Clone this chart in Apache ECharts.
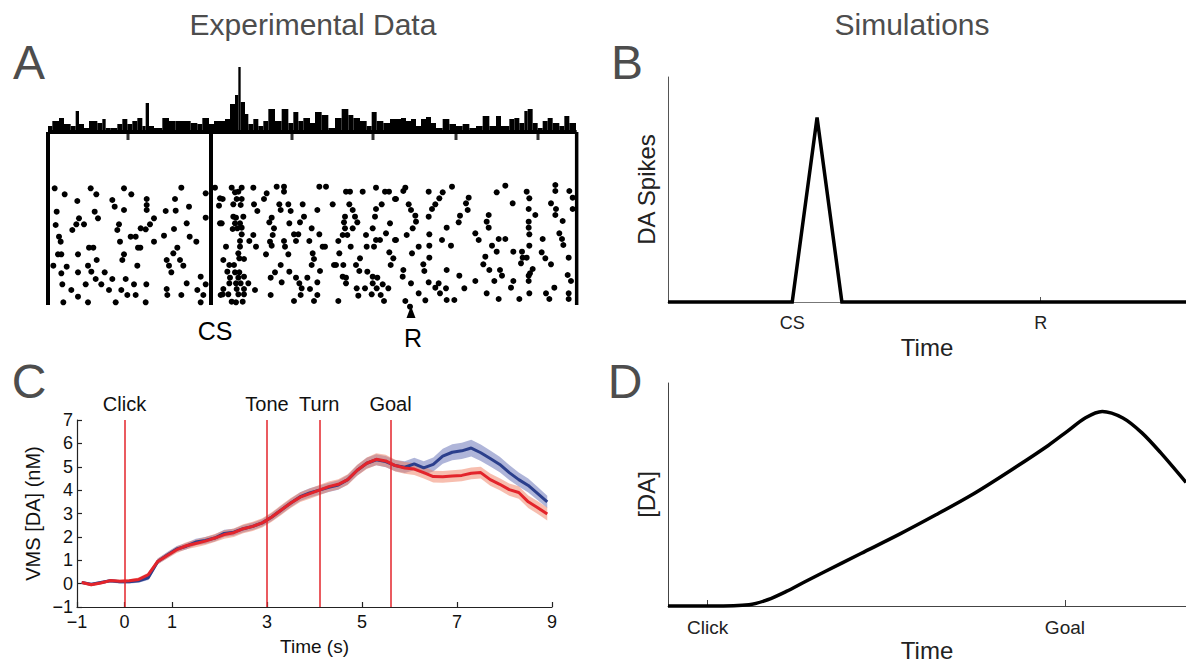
<!DOCTYPE html>
<html><head><meta charset="utf-8">
<script src="https://cdn.jsdelivr.net/npm/echarts@6/dist/echarts.min.js"></script>
<style>html,body{margin:0;padding:0;background:#fff}#c{width:1186px;height:663px}</style>
</head><body><div id="c"></div>
<script>
// ---------- Panel A : histogram (x in raster time units, height in px units) ----------
const histEdges = [12,25,45,60,80,95,105,120,135,160,175,185,200,220,235,250,265,280,295,305,315,330,355,375,395,420,440,460,475,495,510,
  528,543,558,573,583,590,603,613,628,643,658,673,693,713,733,748,763,778,798,813,833,853,873,893,913,928,948,968,983,998,1018,1038,
  1056,1071,1086,1101,1116,1131,1146,1161,1176,1196,1216,1236,1256,1276,1296,1316,1336,1356,1371,1396,1411,1426,1441,1451,1466,1481,1496,1511,1526,1546,1561,1576,1596];
const histHeights = [6,11,14,8,6,21,8,4,11,9,13,4,4,8,13,8,11,14,6,29,6,4,14,11,11,11,9,8,14,8,11,
  11,13,28,37,65,30,18,8,13,6,11,23,11,23,9,20,11,14,9,20,17,4,14,23,17,14,11,6,20,11,9,13,
  13,14,11,13,6,13,15,9,4,13,8,6,8,4,6,16,6,16,6,13,14,9,21,23,9,4,11,14,9,6,16,9];

// raster dots [time, trial-row]
const dotsLeft = [[32,40],[140,40],[240,40],[412,38],[513,38],[62,58],[157,58],[262,58],[485,55],
 [100,78],[205,75],[308,72],[393,72],[528,70],[212,95],[308,90],[435,95],[525,92],
 [38,110],[152,110],[240,105],[308,105],[365,108],[395,107],[105,130],[162,130],[330,130],[485,128],
 [35,150],[97,148],[120,148],[225,148],[318,148],[428,145],[528,145],[85,165],[220,165],[290,160],[305,163],[390,162],
 [45,185],[260,185],[275,185],[360,182],[437,185],[50,200],[228,200],[330,200],[457,200],
 [135,218],[148,218],[282,218],[289,218],[400,218],[42,238],[52,238],[102,238],[240,238],[388,235],
 [158,255],[235,255],[368,255],[408,255],[28,272],[68,275],[132,272],[280,272],[375,272],[418,272],
 [52,295],[102,292],[142,290],[182,292],[382,292],[155,312],[205,312],[245,312],[470,305],
 [55,328],[125,328],[172,328],[270,328],[307,328],[428,325],[485,328],[82,345],[195,345],[232,345],[368,342],[460,345],
 [102,365],[250,360],[275,360],[370,360],[412,360],[478,360],[530,360],[58,382],[132,382],[215,382],[305,382],[470,382]];
const dotsMid = [[563,38],[593,38],[628,38],[698,35],[720,35],[826,35],[846,35],[996,38],
 [573,52],[583,50],[668,55],[720,50],[906,50],[918,50],[956,50],[1023,50],[1035,50],
 [536,72],[578,72],[593,72],[660,72],[1053,72],
 [568,88],[590,90],[630,88],[706,88],[733,88],[776,88],[866,88],[916,88],[1013,88],
 [640,108],[710,105],[740,108],[820,105],[926,105],[996,102],
 [568,125],[576,128],[598,125],[683,128],[780,125],[903,125],[933,125],[993,125],
 [533,145],[573,145],[588,145],[676,142],[736,145],[768,142],[900,142],[940,142],[1038,145],
 [566,162],[580,160],[593,158],[690,160],[803,160],[903,160],[926,160],[986,160],
 [593,178],[628,180],[686,180],[750,178],[763,178],[826,178],[896,180],[910,180],[966,180],[1026,175],
 [588,198],[616,198],[678,200],[720,198],[756,198],[796,198],[883,198],[996,195],[1008,195],[1053,195],
 [546,215],[588,215],[636,215],[683,212],[723,215],[836,215],[843,215],[920,215],[968,215],[990,215],
 [583,235],[666,238],[733,238],[806,235],[886,235],[1036,232],
 [538,255],[586,250],[600,252],[810,252],[948,250],[1048,250],
 [556,270],[570,270],[710,270],[803,270],[870,270],[876,270],[898,270],[936,270],[1040,270],
 [550,290],[573,292],[586,292],[693,292],[736,290],[828,288],[946,288],[970,290],
 [558,308],[583,308],[600,305],[680,308],[756,308],[790,308],[896,305],[906,308],[986,305],[1000,308],
 [556,325],[576,325],[590,325],[613,325],[713,322],[766,325],[820,322],[906,325],[986,325],[1016,328],
 [538,342],[578,342],[600,342],[633,345],[773,340],[798,342],[938,340],[963,340],[998,340],[1033,340],
 [536,358],[553,358],[583,358],[600,358],[680,360],[770,360],[820,360],[943,362],[983,358],[1010,360],
 [563,380],[576,382],[596,380],[750,378],[810,378],[883,378],[1020,378]];
const dotsRight = [[1084,38],[1224,35],[1384,32],[1534,30],
 [1078,48],[1154,50],[1196,52],[1358,52],[1448,50],[1534,48],[1576,48],
 [1056,72],[1186,70],[1274,68],[1456,70],[1586,68],
 [1094,88],[1174,88],[1266,85],[1406,85],[1521,85],
 [1101,105],[1164,102],[1271,105],[1454,102],[1536,102],[1586,102],
 [1114,122],[1154,125],[1248,122],[1334,120],[1474,120],[1534,120],
 [1116,140],[1244,142],[1328,140],[1454,140],[1556,138],
 [1106,160],[1208,158],[1334,158],[1454,158],
 [1088,180],[1156,178],[1294,175],[1456,178],[1546,175],
 [1056,195],[1194,195],[1304,195],[1364,192],[1384,192],[1496,192],[1554,192],
 [1124,215],[1156,212],[1221,212],[1344,212],[1456,212],[1558,210],
 [1104,235],[1358,230],[1408,230],[1434,230],[1493,232],
 [1156,248],[1324,245],[1436,248],[1448,248],[1504,250],[1574,248],
 [1138,268],[1318,268],[1431,265],[1521,268],
 [1078,285],[1141,288],[1208,285],[1336,285],[1368,285],[1466,282],[1458,295],
 [1076,305],[1246,302],[1374,302],[1454,302],[1571,300],
 [1101,325],[1154,322],[1184,325],[1294,318],[1351,318],[1408,318],[1454,318],[1581,318],
 [1174,338],[1206,340],[1261,340],[1401,338],[1531,338],
 [1124,355],[1188,355],[1328,355],[1456,355],[1506,355],[1574,355],
 [1084,378],[1144,376],[1208,375],[1231,375],[1364,372],[1426,372],[1516,372],[1574,372],
 [1098,395]];
const rasterTop = -129, rasterBottom = 390;
const frameLeftT = 12, csT = 501, frameRightT = 1598;
const rewardArrow = [1101, 411];
const baselineStubsT = [252, 744, 987, 1236, 1482];
const baselineStubY = -117;

// ---------- Panel C : VMS dopamine ----------
const cTime = [-0.9,-0.7,-0.5,-0.3,-0.1,0.1,0.3,0.5,0.7,0.9,1.1,1.3,1.5,1.7,1.9,2.1,2.3,2.5,2.7,2.9,
  3.1,3.3,3.5,3.7,3.9,4.1,4.3,4.5,4.7,4.9,5.1,5.3,5.5,5.7,5.9,6.1,6.3,6.5,6.7,6.9,7.1,7.3,7.5,7.7,7.9,8.1,8.3,8.5,8.7,8.9];
const blueMean = [0.05,-0.03,0.05,0.12,0.08,0.08,0.12,0.25,0.95,1.22,1.48,1.6,1.78,1.85,1.95,2.15,2.2,2.35,2.45,2.6,
  2.85,3.15,3.45,3.72,3.88,4.0,4.12,4.22,4.45,4.85,5.15,5.3,5.22,5.05,4.98,5.12,4.95,5.1,5.45,5.62,5.68,5.8,5.6,5.35,5.1,4.75,4.45,4.2,3.85,3.5];
const blueSem = [0.06,0.06,0.06,0.07,0.07,0.07,0.08,0.1,0.12,0.13,0.13,0.14,0.14,0.15,0.15,0.15,0.15,0.16,0.16,0.16,
  0.17,0.18,0.18,0.19,0.2,0.2,0.2,0.2,0.21,0.22,0.23,0.24,0.24,0.24,0.25,0.27,0.28,0.3,0.32,0.34,0.35,0.36,0.35,0.34,0.33,0.32,0.3,0.3,0.28,0.26];
const redMean = [0.05,-0.05,0.03,0.13,0.1,0.12,0.18,0.38,0.95,1.2,1.45,1.62,1.72,1.82,1.95,2.1,2.18,2.35,2.45,2.6,
  2.85,3.15,3.45,3.7,3.85,4.0,4.15,4.25,4.45,4.85,5.15,5.32,5.25,5.05,4.95,4.9,4.75,4.58,4.57,4.6,4.63,4.72,4.75,4.45,4.25,4.02,3.9,3.5,3.25,2.98];
const redSem = [0.06,0.06,0.06,0.07,0.07,0.07,0.08,0.1,0.12,0.13,0.14,0.15,0.16,0.17,0.17,0.18,0.18,0.19,0.2,0.2,
  0.2,0.21,0.21,0.21,0.22,0.22,0.22,0.22,0.23,0.24,0.25,0.26,0.26,0.25,0.25,0.25,0.25,0.25,0.25,0.25,0.25,0.25,0.25,0.26,0.26,0.26,0.27,0.27,0.27,0.28];
const cTicks = [-1,0,1,3,5,7,9];
const eventNames = ['Click','Tone','Turn','Goal'];
const eventTimes = [0,3,4.1,5.6];

// ---------- Panel B : simulated DA spikes ----------
const bTime = [0,10,12,14,41.7];
const bSpikes = [0,0,1,0,0];
const bTickValues = [10,30];
const bTickLabels = ['CS','R'];

// ---------- Panel D : simulated [DA] ----------
const dTime = [0,1.09,2.04,2.51,2.98,3.45,3.92,4.86,5.81,6.75,7.69,8.64,9.58,10.05,10.52,10.94,11.46,11.94,12.41,13.05];
const dDA = [0,0,1.3,6.3,14.7,24.5,34,53,72,92,113,137,162,176,190,196.3,189.7,174.7,154.7,124.7];
const dTickValues = [1,10];
const dTickLabels = ['Click','Goal'];

// ---------------------------------------------------------------------------
const FONT = 'Liberation Sans, Arial, Helvetica, sans-serif';
const chart = echarts.init(document.getElementById('c'), null, {renderer: 'svg'});
const zip = (a, b) => a.map((v, i) => [v, b[i]]);
const minus = v => (v < 0 ? '\u2212' + Math.abs(v) : String(v));

const histData = histHeights.map((h, i) => [histEdges[i], histEdges[i + 1], h]);
const hidden = {show: false};

// shaded error band drawn as one polygon through the axis scales
function bandSeries(mean, sem, fill) {
  return {
    type: 'custom', xAxisIndex: 2, yAxisIndex: 2, silent: true,
    data: zip(cTime, mean), encode: {x: 0, y: 1},
    renderItem: (params, api) => {
      if (params.dataIndex !== 0) return null;
      const pts = [];
      for (let i = 0; i < cTime.length; i++) pts.push(api.coord([cTime[i], mean[i] + sem[i]]));
      for (let i = cTime.length - 1; i >= 0; i--) pts.push(api.coord([cTime[i], mean[i] - sem[i]]));
      return {type: 'polygon', shape: {points: pts}, style: {fill: fill}};
    }
  };
}

const option = {
  animation: false,
  textStyle: {fontFamily: FONT},
  grid: [
    {left: 44, top: 60, width: 534, height: 72},      // A histogram
    {left: 44, top: 132, width: 534, height: 188},    // A raster
    {left: 77, top: 420, width: 475, height: 187},    // C
    {left: 668, top: 77, right: 0, height: 225},      // B
    {left: 668, top: 383, right: 0, height: 225}      // D
  ],
  xAxis: [
    {gridIndex: 0, type: 'value', min: 0, max: 1602, axisLine: hidden, axisTick: hidden, axisLabel: hidden, splitLine: hidden},
    {gridIndex: 1, type: 'value', min: 0, max: 1602, axisLine: hidden, axisTick: hidden, axisLabel: hidden, splitLine: hidden},
    {gridIndex: 2, type: 'value', min: -1, max: 9,
      axisLine: {onZero: false, lineStyle: {color: '#222', width: 1.2}},
      axisTick: {inside: true, length: 5, customValues: cTicks, lineStyle: {color: '#222', width: 1.2}},
      axisLabel: {customValues: cTicks, formatter: minus, color: '#111', fontSize: 18, margin: 6, fontFamily: FONT},
      splitLine: hidden,
      name: 'Time (s)', nameLocation: 'middle', nameGap: 30,
      nameTextStyle: {fontSize: 19, color: '#111', fontFamily: FONT}},
    {gridIndex: 3, type: 'value', min: 0, max: 41.7,
      axisLine: {onZero: false, lineStyle: {color: '#777', width: 1}},
      axisTick: {inside: true, length: 5, customValues: bTickValues, lineStyle: {color: '#555'}},
      axisLabel: {customValues: bTickValues, formatter: v => bTickLabels[bTickValues.indexOf(v)], color: '#222', fontSize: 18, margin: 12, fontFamily: FONT},
      splitLine: hidden,
      name: 'Time', nameLocation: 'middle', nameGap: 33,
      nameTextStyle: {fontSize: 24, color: '#222', fontFamily: FONT}},
    {gridIndex: 4, type: 'value', min: 0, max: 13.05,
      axisLine: {onZero: false, lineStyle: {color: '#444', width: 1}},
      axisTick: {inside: true, length: 6, customValues: dTickValues, lineStyle: {color: '#444'}},
      axisLabel: {customValues: dTickValues, formatter: v => dTickLabels[dTickValues.indexOf(v)], color: '#222', fontSize: 19, margin: 12, fontFamily: FONT},
      splitLine: hidden,
      name: 'Time', nameLocation: 'middle', nameGap: 32,
      nameTextStyle: {fontSize: 24, color: '#222', fontFamily: FONT}}
  ],
  yAxis: [
    {gridIndex: 0, type: 'value', min: 0, max: 72, axisLine: hidden, axisTick: hidden, axisLabel: hidden, splitLine: hidden},
    {gridIndex: 1, type: 'value', inverse: true, min: -129, max: 435, axisLine: hidden, axisTick: hidden, axisLabel: hidden, splitLine: hidden},
    {gridIndex: 2, type: 'value', min: -1, max: 7, interval: 1,
      axisLine: {show: true, onZero: false, lineStyle: {color: '#222', width: 1.2}},
      axisTick: {show: true, inside: true, length: 5, lineStyle: {color: '#222', width: 1.2}},
      axisLabel: {formatter: minus, color: '#111', fontSize: 18, margin: 4, fontFamily: FONT},
      splitLine: hidden,
      name: 'VMS [DA] (nM)', nameLocation: 'middle', nameGap: 34,
      nameTextStyle: {fontSize: 20, color: '#111', fontFamily: FONT}},
    {gridIndex: 3, type: 'value', min: 0, max: 1.22,
      axisLine: {show: true, onZero: false, lineStyle: {color: '#555', width: 1}},
      axisTick: hidden, axisLabel: hidden, splitLine: hidden,
      name: 'DA Spikes', nameLocation: 'middle', nameGap: 10,
      nameTextStyle: {fontSize: 24, color: '#222', fontFamily: FONT}},
    {gridIndex: 4, type: 'value', min: 0, max: 225,
      axisLine: {show: true, onZero: false, lineStyle: {color: '#444', width: 1}},
      axisTick: hidden, axisLabel: hidden, splitLine: hidden,
      name: '[DA]', nameLocation: 'middle', nameGap: 10,
      nameTextStyle: {fontSize: 24, color: '#222', fontFamily: FONT}}
  ],
  series: [
    // --- A histogram
    {type: 'custom', xAxisIndex: 0, yAxisIndex: 0, data: histData, encode: {x: [0, 1], y: 2}, silent: true,
      renderItem: (params, api) => {
        const p0 = api.coord([api.value(0), 0]);
        const p1 = api.coord([api.value(1), api.value(2)]);
        return {type: 'rect', shape: {x: p0[0], y: p1[1], width: p1[0] - p0[0], height: p0[1] - p1[1]}, style: {fill: '#000'}};
      }},
    // --- A frame lines
    {type: 'line', xAxisIndex: 1, yAxisIndex: 1, clip: false, symbol: 'none', silent: true,
      data: [[frameLeftT, rasterTop], [frameRightT, rasterTop]], lineStyle: {color: '#000', width: 4}},
    {type: 'line', xAxisIndex: 1, yAxisIndex: 1, clip: false, symbol: 'none', silent: true,
      data: [[frameLeftT, rasterTop], [frameLeftT, rasterBottom]], lineStyle: {color: '#000', width: 4}},
    {type: 'line', xAxisIndex: 1, yAxisIndex: 1, clip: false, symbol: 'none', silent: true,
      data: [[csT, rasterTop], [csT, rasterBottom]], lineStyle: {color: '#000', width: 4}},
    {type: 'line', xAxisIndex: 1, yAxisIndex: 1, clip: false, symbol: 'none', silent: true,
      data: [[frameRightT, rasterTop], [frameRightT, rasterBottom]], lineStyle: {color: '#000', width: 3.5}},
    {type: 'scatter', xAxisIndex: 1, yAxisIndex: 1, symbol: 'rect', symbolSize: [3, 8], silent: true,
      data: baselineStubsT.map(t => [t, baselineStubY]), itemStyle: {color: '#000'}},
    // --- A raster dots
    {type: 'scatter', xAxisIndex: 1, yAxisIndex: 1, symbolSize: 6, silent: true,
      data: dotsLeft.concat(dotsMid, dotsRight), itemStyle: {color: '#000', opacity: 1}},
    {type: 'scatter', xAxisIndex: 1, yAxisIndex: 1, symbol: 'triangle', symbolSize: [9, 12], silent: true,
      data: [rewardArrow], itemStyle: {color: '#000', opacity: 1}},
    // --- C vertical event lines
    {type: 'line', xAxisIndex: 2, yAxisIndex: 2, data: [], silent: true,
      markLine: {symbol: 'none', silent: true, animation: false,
        lineStyle: {color: '#e3242b', width: 1.5, type: 'solid'},
        label: {position: 'end', formatter: '{b}', color: '#111', fontSize: 20, distance: 6, fontFamily: FONT},
        data: eventNames.map((n, i) => ({name: n, xAxis: eventTimes[i]}))}},
    // --- C bands and lines
    bandSeries(blueMean, blueSem, 'rgba(110,120,185,0.55)'),
    bandSeries(redMean, redSem, 'rgba(240,125,95,0.5)'),
    {type: 'line', xAxisIndex: 2, yAxisIndex: 2, symbol: 'none', silent: true,
      data: zip(cTime, blueMean), lineStyle: {color: '#2b3f8c', width: 3}},
    {type: 'line', xAxisIndex: 2, yAxisIndex: 2, symbol: 'none', silent: true,
      data: zip(cTime, redMean), lineStyle: {color: '#e3242b', width: 3}},
    // --- B
    {type: 'line', xAxisIndex: 3, yAxisIndex: 3, symbol: 'none', silent: true, clip: false,
      data: zip(bTime, bSpikes), lineStyle: {color: '#000', width: 3.5, join: 'miter'}},
    // --- D
    {type: 'line', xAxisIndex: 4, yAxisIndex: 4, symbol: 'none', silent: true, smooth: 0.3, clip: false,
      data: zip(dTime, dDA), lineStyle: {color: '#000', width: 3.5}}
  ],
  graphic: [
    {type: 'text', x: 313, y: 24, style: {text: 'Experimental Data', font: '30px ' + FONT, fill: '#4d4d4d', align: 'center', verticalAlign: 'middle'}},
    {type: 'text', x: 912, y: 24, style: {text: 'Simulations', font: '30px ' + FONT, fill: '#4d4d4d', align: 'center', verticalAlign: 'middle'}},
    {type: 'text', x: 29, y: 62, style: {text: 'A', font: '48px ' + FONT, fill: '#4d4d4d', align: 'center', verticalAlign: 'middle'}},
    {type: 'text', x: 627, y: 62, style: {text: 'B', font: '48px ' + FONT, fill: '#4d4d4d', align: 'center', verticalAlign: 'middle'}},
    {type: 'text', x: 29, y: 381, style: {text: 'C', font: '48px ' + FONT, fill: '#4d4d4d', align: 'center', verticalAlign: 'middle'}},
    {type: 'text', x: 625, y: 381, style: {text: 'D', font: '48px ' + FONT, fill: '#4d4d4d', align: 'center', verticalAlign: 'middle'}},
    {type: 'text', x: 215, y: 331, style: {text: 'CS', font: '25px ' + FONT, fill: '#000', align: 'center', verticalAlign: 'middle'}},
    {type: 'text', x: 413, y: 338, style: {text: 'R', font: '25px ' + FONT, fill: '#000', align: 'center', verticalAlign: 'middle'}}
  ]
};
chart.setOption(option);
</script></body></html>
